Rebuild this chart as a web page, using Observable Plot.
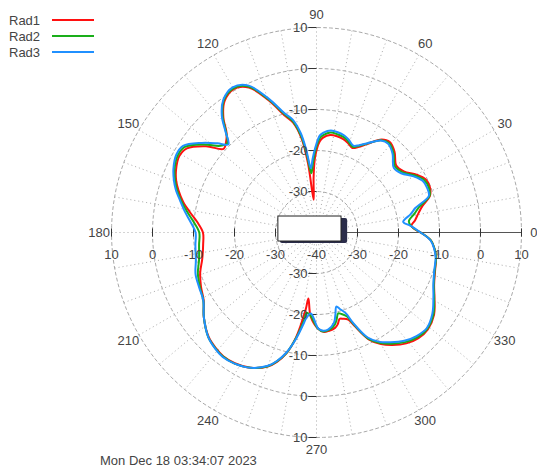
<!DOCTYPE html>
<html><head><meta charset="utf-8">
<script src="https://cdn.jsdelivr.net/npm/d3@7"></script>
<script src="https://cdn.jsdelivr.net/npm/@observablehq/plot@0.6"></script>
<style>
body{margin:0;background:#fff;font-family:"Liberation Sans",Arial,sans-serif}
#wrap{position:relative;width:537px;height:470px}
#legend{position:absolute;left:9px;top:12px;font-size:13px;color:#444}
.row{height:16px;display:flex;align-items:center}
.row .lab{width:43px}
.row .sw{display:inline-block;width:42px;height:2px}
#caption{position:absolute;left:100px;top:453px;font-size:13px;color:#444}
</style></head><body>
<div id="wrap"><div id="chart"></div><div id="legend"></div><div id="caption"></div></div>
<script>
// ---- data ----
const angles = [0,4,7,11,14,18,22,26,30,35,40,46,51,55,60,64,67,71,74,78,82,86,88,91,93,95,97,99,102,105,110,115,120,125,129,132,135,138,142,147,151,156,160,163,167,171,175,180,186,193,199,205,211,217,224,229,233,238,244,250,253,256,259,262,263,266,271,274,277,281,283,285,287,290,292,296,300,304,309,314,319,325,331,336,342,348,352,356,360];
const rad1 = [-14.6,-16.8,-15.8,-14.6,-13.4,-10.9,-10.2,-10.4,-11.8,-14.0,-14.6,-12.6,-11.6,-12.3,-15.0,-16.8,-17.6,-16.8,-16.3,-16.0,-16.0,-16.8,-17.8,-21.5,-26.5,-32.0,-23.0,-16.8,-12.6,-10.6,-5.6,-1.0,0.4,-0.9,-3.9,-7.2,-8.8,-9.5,-5.8,-2.3,-1.7,-2.5,-3.6,-4.8,-6.6,-8.8,-10.8,-12.3,-12.2,-11.4,-10.0,-8.9,-7.9,-5.6,-3.4,-2.6,-2.2,-2.4,-3.3,-5.2,-7.0,-9.6,-14.0,-21.0,-23.8,-19.5,-16.5,-15.7,-15.8,-16.3,-17.0,-18.2,-18.0,-17.4,-15.5,-11.0,-8.6,-6.9,-5.2,-4.2,-4.0,-5.0,-7.1,-8.6,-9.6,-10.2,-10.9,-12.0,-14.6];
const rad2 = [-14.6,-16.9,-17.3,-15.6,-14.2,-11.0,-10.5,-10.8,-12.2,-14.4,-15.0,-13.0,-11.9,-12.5,-14.9,-16.5,-17.3,-16.4,-15.8,-15.5,-15.4,-16.2,-17.0,-20.2,-23.2,-25.5,-21.0,-16.2,-12.2,-10.2,-5.3,-0.7,0.6,-0.6,-3.6,-7.0,-9.2,-8.4,-5.1,-1.7,-1.3,-2.1,-3.3,-4.4,-6.2,-8.1,-9.9,-11.4,-11.2,-10.6,-9.4,-8.6,-7.8,-5.6,-3.3,-2.5,-2.1,-2.3,-3.3,-5.3,-7.2,-9.7,-13.7,-18.5,-20.3,-19.6,-16.5,-15.8,-16.0,-17.0,-18.2,-19.6,-19.2,-18.2,-15.9,-11.2,-8.9,-7.3,-5.6,-4.5,-4.2,-5.2,-7.2,-8.7,-9.7,-10.2,-10.9,-12.0,-14.6];
const rad3 = [-14.6,-17.0,-18.7,-16.6,-15.1,-11.2,-10.9,-11.2,-12.6,-14.8,-15.4,-13.3,-12.2,-12.6,-14.8,-16.3,-17.0,-16.0,-15.4,-15.0,-14.9,-15.6,-16.3,-19.5,-22.0,-24.3,-19.9,-15.5,-11.8,-9.9,-5.0,-0.4,0.9,-0.4,-3.3,-6.8,-9.6,-7.5,-4.5,-1.2,-0.9,-1.8,-3.0,-4.1,-5.9,-7.5,-9.1,-10.5,-10.3,-9.8,-8.8,-8.4,-7.8,-5.6,-3.3,-2.4,-2.0,-2.3,-3.3,-5.4,-7.3,-9.9,-13.5,-17.6,-18.8,-20.2,-16.6,-16.0,-16.2,-17.6,-19.5,-21.3,-20.5,-19.0,-16.3,-11.5,-9.2,-7.7,-6.0,-4.9,-4.4,-5.5,-7.4,-8.8,-9.8,-10.3,-11.0,-12.1,-14.6];
const seriesNames = ["Rad1","Rad2","Rad3"];
const seriesColors = ["#ff1010","#1aae1a","#2090ff"];
const ringLevels = [-30,-20,-10,0,10];
const radialTickLabels = ["-30","-20","-10","0","10"];
const angleLabels = [0,30,60,90,120,150,180,210,240,270,300,330];
const rMin = -40, rMax = 10;
const captionText = "Mon Dec 18 03:34:07 2023";

// ---- geometry helpers ----
const W = 537, H = 470, CX = 316, CY = 232, K = 4.1; // px per dB
const rad = a => a * Math.PI / 180;
const R = v => v - rMin;
const px = (a, v) => R(v) * Math.cos(rad(a));
const py = (a, v) => R(v) * Math.sin(rad(a));

const curveData = [rad1, rad2, rad3].map((vals, i) =>
  angles.map((a, j) => ({series: seriesNames[i], x: px(a, vals[j]), y: py(a, vals[j])})));

const ringPts = ringLevels.flatMap(l => d3.range(0, 361, 2).map(a => ({l, x: px(a, l), y: py(a, l)})));
const spokes = d3.range(10, 360, 10).map(a => ({x2: px(a, rMax), y2: py(a, rMax)}));
const axisTicksH = ringLevels.flatMap(l => [R(l), -R(l)]).map(x => ({x}));
const axisTicksV = ringLevels.flatMap(l => [R(l), -R(l)]).map(y => ({y}));
const hLabels = [
  ...ringLevels.map((l, i) => ({x: -R(l), t: radialTickLabels[i]})),
  {x: 0, t: "-40"},
  ...ringLevels.map((l, i) => ({x: R(l), t: radialTickLabels[i]}))
];
const vLabels = [
  ...ringLevels.map((l, i) => ({y: R(l), t: radialTickLabels[i]})),
  ...ringLevels.map((l, i) => ({y: -R(l), t: radialTickLabels[i]}))
];
const aLabels = angleLabels.map(a => ({x: px(a, rMax + 3), y: py(a, rMax + 3), t: String(a)}));

const grid = "#a9a9a9", txt = "#444";
const chart = Plot.plot({
  width: W, height: H,
  margin: 0,
  x: {domain: [-CX / K, (W - CX) / K], axis: null},
  y: {domain: [-(H - CY) / K, CY / K], axis: null},
  style: {fontFamily: "Liberation Sans, Arial, sans-serif", background: "#fff"},
  marks: [
    Plot.line(ringPts, {x: "x", y: "y", z: "l", stroke: grid, strokeWidth: 1, strokeDasharray: "3,3"}),
    Plot.link(spokes, {x1: 0, y1: 0, x2: "x2", y2: "y2", stroke: grid, strokeWidth: 1, strokeDasharray: "1,3"}),
    Plot.link([{x: R(rMax)}], {x1: 0, y1: 0, x2: "x", y2: 0, stroke: "#555", strokeWidth: 1.2}),
    Plot.link(axisTicksH, {x1: "x", x2: "x", y1: -1, y2: 1, stroke: "#333", strokeWidth: 1}),
    Plot.link(axisTicksV, {x1: -2, x2: 0, y1: "y", y2: "y", stroke: "#333", strokeWidth: 1}),
    ...curveData.map((d, i) => Plot.line(d, {x: "x", y: "y", stroke: seriesColors[i], strokeWidth: 2, curve: "catmull-rom"})),
    Plot.rect([{x1: -8.8, x2: 7.6, y1: -2.7, y2: 3.4}], {x1: "x1", x2: "x2", y1: "y1", y2: "y2", fill: "#2b2d4a", rx: 2}),
    Plot.rect([{x1: -9.3, x2: 6.1, y1: -2.2, y2: 3.9}], {x1: "x1", x2: "x2", y1: "y1", y2: "y2", fill: "#fff", stroke: "#222", strokeWidth: 1}),
    Plot.text(hLabels, {x: "x", y: 0, text: "t", dy: 22, fontSize: 13, fill: txt}),
    Plot.text(vLabels, {x: 0, y: "y", text: "t", dx: -9, textAnchor: "end", fontSize: 13, fill: txt}),
    Plot.text(aLabels, {x: "x", y: "y", text: "t", fontSize: 13, fill: txt})
  ]
});
document.getElementById("chart").append(chart);

const leg = document.getElementById("legend");
seriesNames.forEach((n, i) => {
  const row = document.createElement("div");
  row.className = "row";
  row.innerHTML = `<span class="lab">${n}</span><span class="sw" style="background:${seriesColors[i]}"></span>`;
  leg.append(row);
});
document.getElementById("caption").textContent = captionText;
</script>
</body></html>
